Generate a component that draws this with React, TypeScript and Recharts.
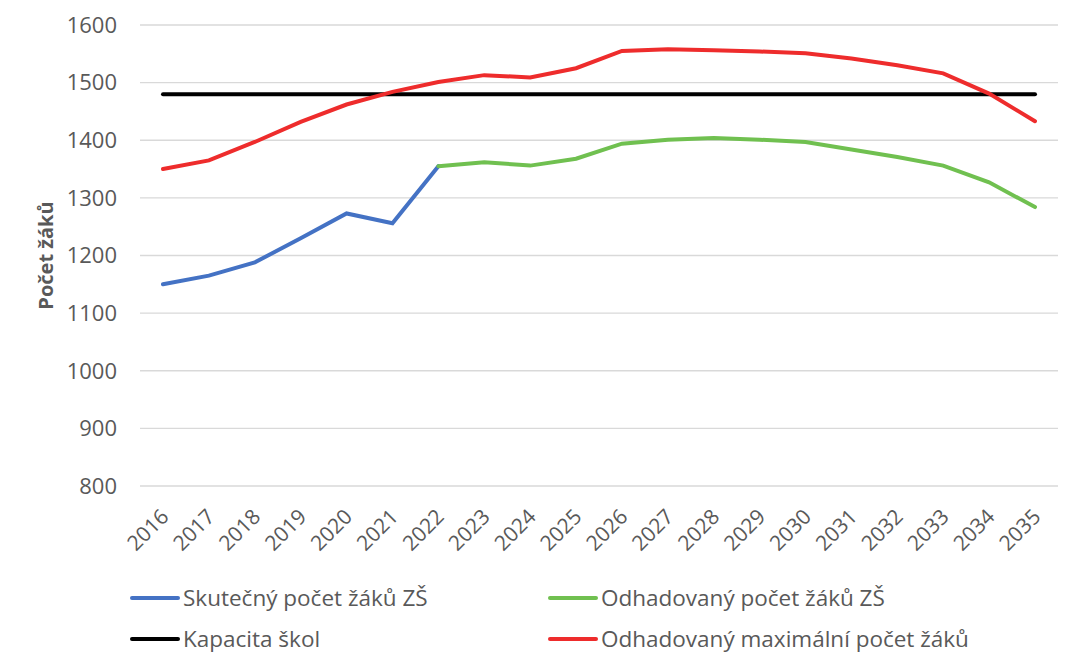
import React from 'react';
import { LineChart, Line, XAxis, YAxis, CartesianGrid, Legend } from 'recharts';

const years = [
  '2016', '2017', '2018', '2019', '2020', '2021', '2022', '2023', '2024', '2025',
  '2026', '2027', '2028', '2029', '2030', '2031', '2032', '2033', '2034', '2035',
];

const actual = [1150, 1165, 1188, 1230, 1273, 1256, 1355, null, null, null, null, null, null, null, null, null, null, null, null, null];
const estimated = [null, null, null, null, null, null, 1355, 1362, 1356, 1368, 1394, 1401, 1404, 1401, 1397, 1384, 1371, 1356, 1327, 1284];
const capacity = [1480, 1480, 1480, 1480, 1480, 1480, 1480, 1480, 1480, 1480, 1480, 1480, 1480, 1480, 1480, 1480, 1480, 1480, 1480, 1480];
const estimatedMax = [1350, 1365, 1397, 1432, 1462, 1484, 1501, 1513, 1509, 1525, 1555, 1558, 1556, 1554, 1551, 1542, 1530, 1516, 1481, 1433];

const yTicks = [800, 900, 1000, 1100, 1200, 1300, 1400, 1500, 1600];

const data = years.map((year, i) => ({
  year,
  actual: actual[i],
  estimated: estimated[i],
  capacity: capacity[i],
  estimatedMax: estimatedMax[i],
}));

const FONT = '"Open Sans", sans-serif';
const TEXT = '#595959';

const legendItems = [
  { name: 'Skutečný počet žáků ZŠ', color: '#4472C4' },
  { name: 'Odhadovaný počet žáků ZŠ', color: '#70C050' },
  { name: 'Kapacita škol', color: '#000000' },
  { name: 'Odhadovaný maximální počet žáků', color: '#EE2C2C' },
];

const YearTick = (props: any) => {
  const { x, y, payload } = props;
  const tx = x + 7;
  const ty = y + 24;
  return (
    <text
      x={tx}
      y={ty}
      transform={`rotate(-45 ${tx} ${ty})`}
      textAnchor="end"
      fill={TEXT}
      fontSize={21}
      fontFamily={FONT}
    >
      {payload.value}
    </text>
  );
};

const YTitle = (props: any) => {
  const { viewBox } = props;
  const cx = 45;
  const cy = viewBox.y + viewBox.height / 2;
  return (
    <text
      x={cx}
      y={cy}
      transform={`rotate(-90 ${cx} ${cy})`}
      textAnchor="middle"
      dominantBaseline="central"
      fill={TEXT}
      fontSize={20}
      fontWeight="bold"
      fontFamily={FONT}
    >
      Počet žáků
    </text>
  );
};

const LegendBox = () => (
  <div
    style={{
      width: 1000,
      height: 108,
      display: 'grid',
      gridTemplateColumns: '418px 450px',
      gridAutoRows: '41px',
      paddingLeft: 130,
      paddingTop: 31,
      boxSizing: 'border-box',
      fontFamily: FONT,
      fontSize: 22.5,
      color: TEXT,
      whiteSpace: 'nowrap',
      textAlign: 'left',
    }}
  >
    {legendItems.map((item) => (
      <div key={item.name} style={{ display: 'flex', alignItems: 'center' }}>
        <span
          style={{
            display: 'inline-block',
            flex: 'none',
            width: 50,
            height: 4,
            borderRadius: 2,
            background: item.color,
            marginRight: 3,
          }}
        />
        <span>{item.name}</span>
      </div>
    ))}
  </div>
);

export default function App() {
  return (
    <div style={{ position: 'absolute', left: 0, top: 0, background: '#fff' }}>
      <LineChart
        width={1068}
        height={654}
        data={data}
        margin={{ top: 25, right: 10, left: 0, bottom: 0 }}
      >
        <CartesianGrid vertical={false} stroke="#d9d9d9" strokeWidth={1.3} />
        <XAxis
          dataKey="year"
          axisLine={false}
          tickLine={false}
          interval={0}
          height={60}
          padding={{ left: 23, right: 23 }}
          tick={<YearTick />}
        />
        <YAxis
          domain={[800, 1600]}
          ticks={yTicks}
          width={140}
          axisLine={false}
          tickLine={false}
          tickMargin={17}
          tick={{ fill: TEXT, fontSize: 22, fontFamily: FONT }}
          label={<YTitle />}
        />
        <Legend
          verticalAlign="bottom"
          height={108}
          wrapperStyle={{ left: 0, width: 1000 }}
          content={<LegendBox />}
        />
        <Line
          dataKey="actual"
          name="Skutečný počet žáků ZŠ"
          stroke="#4472C4"
          strokeWidth={4}
          dot={false}
          strokeLinecap="round"
          isAnimationActive={false}
        />
        <Line
          dataKey="estimated"
          name="Odhadovaný počet žáků ZŠ"
          stroke="#70C050"
          strokeWidth={4}
          dot={false}
          strokeLinecap="round"
          isAnimationActive={false}
        />
        <Line
          dataKey="capacity"
          name="Kapacita škol"
          stroke="#000000"
          strokeWidth={4}
          dot={false}
          strokeLinecap="round"
          isAnimationActive={false}
        />
        <Line
          dataKey="estimatedMax"
          name="Odhadovaný maximální počet žáků"
          stroke="#EE2C2C"
          strokeWidth={4}
          dot={false}
          strokeLinecap="round"
          isAnimationActive={false}
        />
      </LineChart>
    </div>
  );
}
